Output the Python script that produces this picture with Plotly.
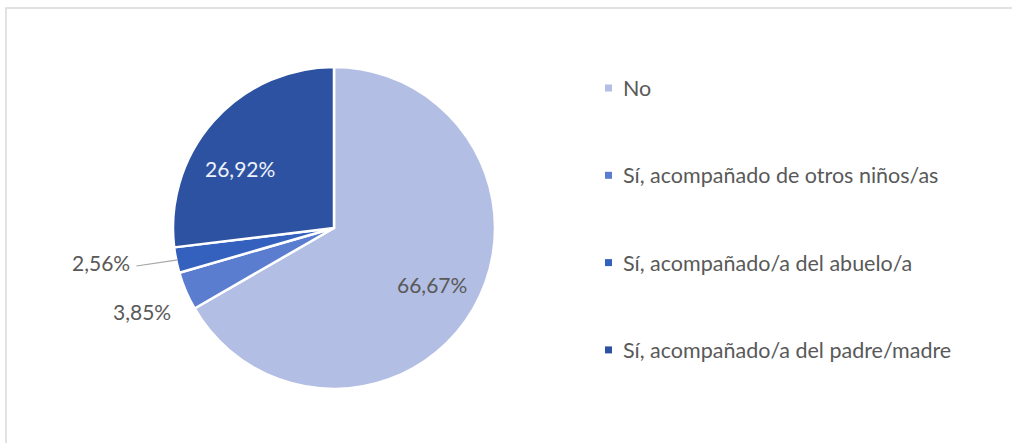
import math
import plotly.graph_objects as go

# ---- data ----
categories = ["No", "Sí, acompañado de otros niños/as",
              "Sí, acompañado/a del abuelo/a", "Sí, acompañado/a del padre/madre"]
values = [66.67, 3.85, 2.56, 26.92]
colors = ["#B2BEE3", "#5A7DCF", "#3561BE", "#2E52A2"]
label_colors = ["#595959", "#595959", "#595959", "#EEF2FA"]

W, H = 1012, 443
CX, CY, R = 334, 228, 161  # pie centre / radius in pixels (layout)

def px(x):
    return x / W

def py(y):
    return 1 - y / H

fig = go.Figure(go.Pie(
    labels=categories,
    values=values,
    sort=False,
    direction="clockwise",
    rotation=0,
    marker=dict(colors=colors, line=dict(color="white", width=2.5)),
    textinfo="none",
    hoverinfo="label+percent",
    showlegend=False,
    domain=dict(x=[px(CX - R), px(CX + R)], y=[py(CY + R), py(CY - R)]),
))

# ---- data labels (placed around each slice's mid angle) ----
total = sum(values)
label_dist = [0.70, 1.30, 1.46, 0.69]
label_shift_deg = [0.0, -0.6, 3.2, -8.9]
annotations = []
shapes = []
cum = 0.0
for i, v in enumerate(values):
    mid = 2 * math.pi * (cum + v / 2) / total
    cum += v
    ang = mid + math.radians(label_shift_deg[i])
    lx = CX + R * label_dist[i] * math.sin(ang)
    ly = CY - R * label_dist[i] * math.cos(ang)
    txt = f"{v:.2f}".replace(".", ",") + "%"
    annotations.append(dict(
        x=px(lx), y=py(ly), xref="paper", yref="paper", text=txt,
        showarrow=False, font=dict(family="Lato", size=21, color=label_colors[i]),
        xanchor="center", yanchor="middle"))
    if i == 2:  # leader line for the small slice
        ex, ey = CX + R * 0.99 * math.sin(mid), CY - R * 0.99 * math.cos(mid)
        shapes.append(dict(type="line", xref="paper", yref="paper",
                           x0=px(lx + 35), y0=py(ly + 4), x1=px(ex), y1=py(ey),
                           line=dict(color="#A6A6A6", width=1.2)))

# ---- legend (drawn manually to match spacing) ----
LEG_X, LEG_Y0, LEG_GAP = 605, 88, 87.3
for i, cat in enumerate(categories):
    yy = LEG_Y0 + i * LEG_GAP
    shapes.append(dict(type="rect", xref="paper", yref="paper",
                       x0=px(LEG_X), x1=px(LEG_X + 7), y0=py(yy + 3.5), y1=py(yy - 3.5),
                       fillcolor=colors[i], line=dict(width=0)))
    annotations.append(dict(
        x=px(LEG_X + 16), y=py(yy), xref="paper", yref="paper", text=cat,
        showarrow=False, font=dict(family="Lato", size=21.5, color="#595959"),
        xanchor="left", yanchor="middle"))

# ---- chart frame ----
shapes.append(dict(type="rect", xref="paper", yref="paper",
                   x0=px(6), x1=1.02, y0=-0.02, y1=py(8),
                   line=dict(color="#D9D9D9", width=1.5), fillcolor="rgba(0,0,0,0)"))

fig.update_layout(
    width=W, height=H,
    margin=dict(l=0, r=0, t=0, b=0),
    paper_bgcolor="white",
    plot_bgcolor="white",
    annotations=annotations,
    shapes=shapes,
    font=dict(family="Lato"),
)

fig.write_html("out.html",
               config={"displayModeBar": False},
               post_script="document.body.style.margin='0';document.body.style.overflow='hidden';")
